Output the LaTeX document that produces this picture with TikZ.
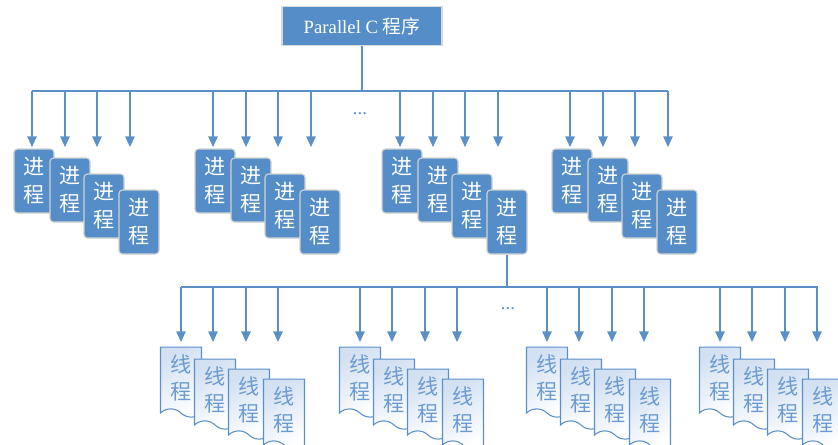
\documentclass[tikz,border=0pt]{standalone}
\usepackage{fontspec}
\setmainfont{Liberation Serif}
\newfontfamily\cjk{Noto Sans CJK SC}
\usetikzlibrary{arrows.meta,shapes.symbols}
\definecolor{procblue}{RGB}{84,141,199}
\definecolor{lineblue}{RGB}{91,143,200}
\definecolor{textblue}{RGB}{108,155,210}
\definecolor{docfill}{RGB}{210,224,242}

\begin{document}
\begin{tikzpicture}[x=0.03cm, y=-0.03cm,
  link/.style={lineblue, line width=1.1pt},
  arr/.style={link, -{Triangle[width=8pt,length=9pt]}},
  proc/.style={rectangle, rounded corners=3pt, fill=procblue, draw=black!18, line width=1pt,
    minimum width=1.2cm, minimum height=1.92cm, text=white, align=center,
    font=\cjk\fontsize{18}{24}\selectfont},
  doc/.style={tape, tape bend top=none, tape bend bottom=out and in, tape bend height=7pt,
    draw=lineblue, line width=0.9pt, top color=docfill, bottom color=white, shading angle=30,
    minimum width=1.23cm, minimum height=2.1cm, text=textblue, align=center,
    font=\cjk\fontsize{18}{23}\selectfont},
  dots/.style={text=lineblue, font=\fontsize{16}{16}\selectfont}]

\useasboundingbox (0,0) rectangle (838,444);

% program
\node [rectangle, fill=procblue, draw=black!15, line width=1pt, minimum width=4.8cm,
  minimum height=1.17cm, text=white, font=\fontsize{16}{20}\selectfont]
  (prog) at (362,26) {Parallel C {\cjk 程序}};
\coordinate (bus1w) at (32,91);
\coordinate (bus1e) at (668,91);
\draw [link] (prog.south) -- (prog.south |- bus1w);
\draw [link] (bus1w) -- (bus1e);

% processes
\foreach \g/\X in {1/32, 2/213, 3/400, 4/570} {
  \foreach \i/\dx/\bx/\by in {1/0/2/181, 2/33/38/190, 3/65/72/206, 4/98/107/222} {
    \coordinate (pa\g\i) at (\X+\dx,147);
    \draw [arr] (pa\g\i |- bus1w) -- (pa\g\i);
    \node [proc] (p\g\i) at (\X+\bx,\by) {进\\程};
  }
}
\node [dots] (dots1) at (360,114) {...};

% threads
\coordinate (bus2w) at (181,287);
\coordinate (bus2e) at (818,287);
\draw [link] (p34.south) -- (p34.south |- bus2w);
\draw [link] (bus2w) -- (bus2e);
\foreach \g/\X in {1/181, 2/360, 3/547, 4/720} {
  \foreach \i/\dx/\tx/\ty in {1/0/0/378, 2/32/34/390, 3/65/68/400, 4/97/103/410} {
    \coordinate (ta\g\i) at (\X+\dx,342);
    \draw [arr] (ta\g\i |- bus2w) -- (ta\g\i);
    \node [doc] (t\g\i) at (\X+\tx,\ty) {线\\程};
  }
}
\node [dots] (dots2) at (508,309) {...};
\end{tikzpicture}
\end{document}
